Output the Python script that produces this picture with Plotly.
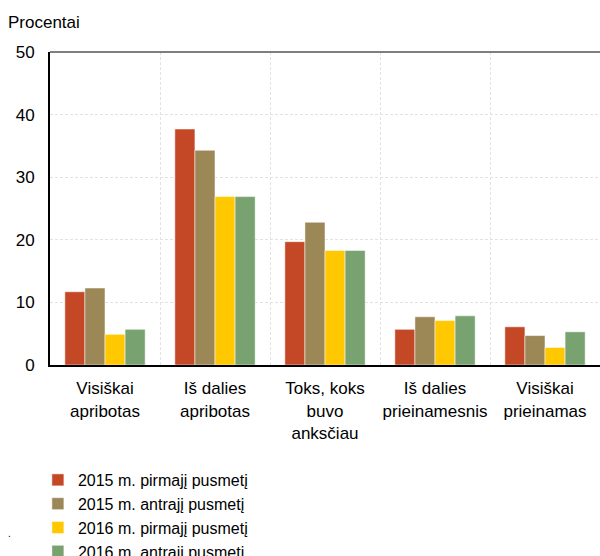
import plotly.graph_objects as go

categories = ["Visiškai<br>apribotas", "Iš dalies<br>apribotas", "Toks, koks<br>buvo<br>anksčiau",
              "Iš dalies<br>prieinamesnis", "Visiškai<br>prieinamas"]
series_names = ["2015 m. pirmajį pusmetį", "2015 m. antrajį pusmetį",
                "2016 m. pirmajį pusmetį", "2016 m. antrajį pusmetį"]
s2015_h1 = [11.7, 37.7, 19.7, 5.7, 6.1]
s2015_h2 = [12.3, 34.3, 22.8, 7.7, 4.7]
s2016_h1 = [4.9, 26.9, 18.3, 7.1, 2.8]
s2016_h2 = [5.7, 26.9, 18.3, 7.85, 5.3]
colors = ["#C44826", "#9C8756", "#FFC800", "#78A270"]
y_ticks = [0, 10, 20, 30, 40, 50]

fig = go.Figure()
for name, vals, col in zip(series_names, [s2015_h1, s2015_h2, s2016_h1, s2016_h2], colors):
    fig.add_trace(go.Bar(x=categories, y=vals, name=name, marker_color=col,
                         marker_line=dict(color="rgba(255,255,255,0.5)", width=1)))

font = "Liberation Sans, Arial, sans-serif"
fig.update_layout(
    width=600, height=556,
    margin=dict(l=50, r=0, t=52, b=191, autoexpand=False),
    paper_bgcolor="white", plot_bgcolor="white",
    barmode="group", bargap=0.27, bargroupgap=0,
    font=dict(family=font, size=17, color="#000000"),
    showlegend=True,
    legend=dict(x=-0.022, xanchor="left", y=-0.313, yanchor="top",
                orientation="v", font=dict(size=16), bgcolor="rgba(0,0,0,0)",
                itemwidth=30, tracegroupgap=0),
    xaxis=dict(showline=True, linecolor="#000000", linewidth=2, ticks="",
               tickson="boundaries", showgrid=True, gridcolor="#E2E2E2", griddash="3px,2px",
               gridwidth=1, tickfont=dict(size=17), tickangle=0, ticklabelstandoff=7,
               fixedrange=True),
    yaxis=dict(range=[0, 50], tickvals=y_ticks, showline=True, linecolor="#000000", linewidth=2,
               ticks="", showgrid=True, gridcolor="#E2E2E2", griddash="3px,2px", gridwidth=1,
               zeroline=False, tickfont=dict(size=17), ticklabelstandoff=10),
)
fig.add_shape(type="line", xref="paper", yref="paper", x0=0, x1=1, y0=1, y1=1,
              line=dict(color="#555555", width=1.5))
fig.add_annotation(text="Procentai", xref="paper", yref="paper", x=-50/550, y=1 + 30/313,
                   xanchor="left", yanchor="middle", showarrow=False, xshift=6,
                   font=dict(size=17))
fig.add_annotation(text=".", xref="paper", yref="paper", x=-50/550, y=(365 - 533) / 313,
                   xanchor="left", yanchor="middle", showarrow=False, xshift=6,
                   font=dict(size=10))
fig.write_html("out.html", config={"displayModeBar": False},
               post_script="document.body.style.margin='0';document.body.style.padding='0';")
